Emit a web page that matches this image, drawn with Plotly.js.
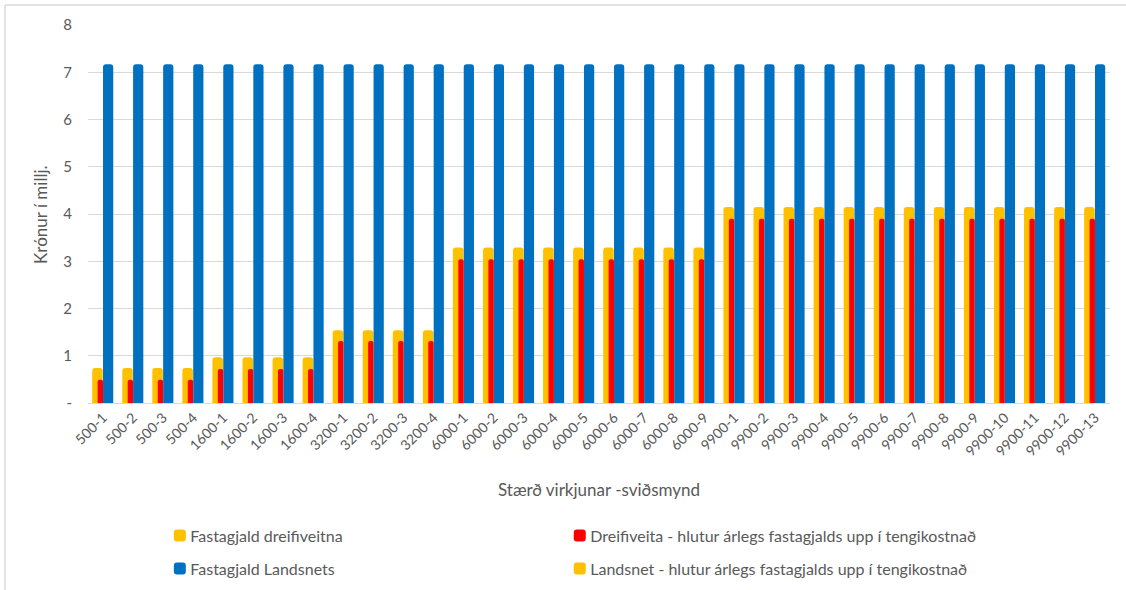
<!DOCTYPE html>
<html>
<head>
<meta charset="utf-8">
<script src="https://cdn.plot.ly/plotly-3.0.1.min.js"></script>
<style>html,body{margin:0;padding:0;background:#fff;}#chart{width:1126px;height:590px;}</style>
</head>
<body>
<div id="chart"></div>
<script>
const categories = ["500-1","500-2","500-3","500-4","1600-1","1600-2","1600-3","1600-4","3200-1","3200-2","3200-3","3200-4","6000-1","6000-2","6000-3","6000-4","6000-5","6000-6","6000-7","6000-8","6000-9","9900-1","9900-2","9900-3","9900-4","9900-5","9900-6","9900-7","9900-8","9900-9","9900-10","9900-11","9900-12","9900-13"];
const fastagjaldDreifiveitna = [0.74,0.74,0.74,0.74,0.97,0.97,0.97,0.97,1.54,1.54,1.54,1.54,3.29,3.29,3.29,3.29,3.29,3.29,3.29,3.29,3.29,4.15,4.15,4.15,4.15,4.15,4.15,4.15,4.15,4.15,4.15,4.15,4.15,4.15];
const dreifiveitaHlutur = [0.49,0.49,0.49,0.49,0.72,0.72,0.72,0.72,1.31,1.31,1.31,1.31,3.04,3.04,3.04,3.04,3.04,3.04,3.04,3.04,3.04,3.90,3.90,3.90,3.90,3.90,3.90,3.90,3.90,3.90,3.90,3.90,3.90,3.90];
const fastagjaldLandsnets = [7.17,7.17,7.17,7.17,7.17,7.17,7.17,7.17,7.17,7.17,7.17,7.17,7.17,7.17,7.17,7.17,7.17,7.17,7.17,7.17,7.17,7.17,7.17,7.17,7.17,7.17,7.17,7.17,7.17,7.17,7.17,7.17,7.17,7.17];
const landsnetHlutur = [0,0,0,0,0,0,0,0,0,0,0,0,0,0,0,0,0,0,0,0,0,0,0,0,0,0,0,0,0,0,0,0,0,0];
const yTickVals = [0,1,2,3,4,5,6,7,8];
const yTickText = ["-","1","2","3","4","5","6","7","8"];

const FONT = "Lato, 'Open Sans', sans-serif";
const GREY = "#595959";

const traces = [
  {type:"bar", name:"Fastagjald dreifiveitna", x:categories, y:fastagjaldDreifiveitna,
   offset:-0.36, width:0.35, marker:{color:"#FFC000", cornerradius:3}, legend:"legend"},
  {type:"bar", name:"Dreifiveita - hlutur árlegs fastagjalds upp í tengikostnað", x:categories, y:dreifiveitaHlutur,
   offset:-0.18, width:0.18, marker:{color:"#FF0000", cornerradius:2}, legend:"legend2"},
  {type:"bar", name:"Fastagjald Landsnets", x:categories, y:fastagjaldLandsnets,
   offset:0, width:0.34, marker:{color:"#0070C0", cornerradius:3}, legend:"legend3"},
  {type:"bar", name:"Landsnet - hlutur árlegs fastagjalds upp í tengikostnað", x:categories, y:landsnetHlutur,
   offset:0, width:0.18, marker:{color:"#FFC000", cornerradius:2}, legend:"legend4"}
];

function leg(x, y){
  return {orientation:"v", xanchor:"left", yanchor:"middle", x:x, y:y,
    font:{family:FONT, size:16, color:GREY}, bgcolor:"rgba(0,0,0,0)", borderwidth:0};
}

const layout = {
  width:1126, height:590,
  margin:{l:88, r:16, t:25, b:187, autoexpand:false},
  paper_bgcolor:"#fff", plot_bgcolor:"#fff",
  barmode:"overlay",
  font:{family:FONT, color:GREY},
  xaxis:{type:"category", range:[-0.5,33.5], tickangle:-45, tickfont:{size:14, color:GREY, family:FONT},
         showgrid:false, showline:true, linecolor:"#d9d9d9", linewidth:1, ticks:"", zeroline:false, automargin:false},
  yaxis:{range:[0,8], tickvals:yTickVals, ticktext:yTickText, tickfont:{size:15, color:GREY, family:FONT},
         showgrid:true, gridcolor:"#d9d9d9", gridwidth:1, zeroline:false, ticks:"", ticklabelstandoff:15, showline:false, automargin:false},
  showlegend:true,
  legend:leg(0.061, -0.351),
  legend2:leg(0.4523, -0.351),
  legend3:leg(0.061, -0.438),
  legend4:leg(0.4523, -0.438),
  annotations:[
    {text:"Krónur í millj.", xref:"paper", yref:"paper", x:-0.047, y:0.5, textangle:-90, showarrow:false,
     xanchor:"center", yanchor:"middle", font:{family:FONT, size:17, color:GREY}},
    {text:"Stærð virkjunar -sviðsmynd", xref:"paper", yref:"paper", x:0.5, y:-0.229, showarrow:false,
     xanchor:"center", yanchor:"middle", font:{family:FONT, size:17, color:GREY}}
  ],
  shapes:[
    {type:"line", xref:"paper", yref:"paper", x0:-0.0812, x1:1.2, y0:1.0529, y1:1.0529, line:{color:"#d9d9d9", width:1.5}},
    {type:"line", xref:"paper", yref:"paper", x0:-0.0812, x1:-0.0812, y0:1.0529, y1:-0.6, line:{color:"#d9d9d9", width:1.5}}
  ]
};

Plotly.newPlot("chart", traces, layout, {displayModeBar:false, staticPlot:true}).then(function(){
  document.querySelectorAll(".legendpoints").forEach(function(g){
    g.setAttribute("transform", "translate(9.5,0)");
  });
});
</script>
</body>
</html>
